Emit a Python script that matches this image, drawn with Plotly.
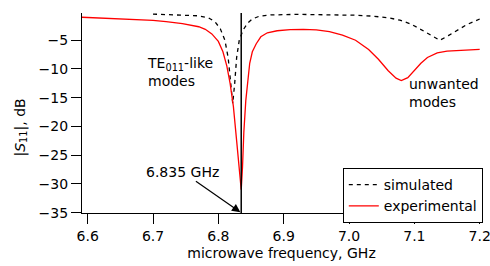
import plotly.graph_objects as go

# Experimental |S11| (red)
exp_freq = [6.591, 6.63, 6.67, 6.70, 6.72, 6.745, 6.77, 6.78, 6.79, 6.80, 6.807, 6.813, 6.818,
            6.823, 6.828, 6.832, 6.835, 6.837, 6.839, 6.842, 6.845, 6.848, 6.852, 6.858, 6.865,
            6.875, 6.89, 6.91, 6.93, 6.95, 6.97, 6.99, 7.01, 7.03, 7.045, 7.06, 7.072, 7.08,
            7.09, 7.10, 7.11, 7.12, 7.135, 7.15, 7.175, 7.2]
exp_db = [-1.0, -1.15, -1.35, -1.55, -1.75, -2.1, -2.65, -3.1, -3.9, -5.2, -7.0, -9.5, -12.5,
          -16.5, -22.5, -27.5, -31.0, -27.0, -21.0, -15.5, -11.5, -9.0, -7.0, -5.6, -4.4,
          -3.7, -3.35, -3.15, -3.1, -3.2, -3.5, -4.1, -5.0, -6.6, -8.3, -10.3, -11.6, -12.0,
          -11.5, -10.3, -9.0, -8.0, -7.2, -6.9, -6.7, -6.6]

# Simulated |S11| (black dashed)
sim_freq = [6.70, 6.74, 6.77, 6.785, 6.795, 6.803, 6.81, 6.815, 6.819, 6.822, 6.825, 6.828,
            6.832, 6.838, 6.845, 6.852, 6.862, 6.88, 6.92, 6.97, 7.01, 7.036, 7.06, 7.078,
            7.095, 7.108, 7.125, 7.139, 7.152, 7.165, 7.18, 7.2]
sim_db = [-0.45, -0.55, -0.75, -1.1, -1.8, -3.0, -5.0, -8.0, -12.0, -16.0, -12.5, -8.0,
          -5.0, -3.2, -2.0, -1.3, -0.85, -0.6, -0.5, -0.55, -0.65, -0.8, -1.1, -1.5,
          -2.2, -3.0, -4.1, -5.0, -4.2, -3.25, -2.3, -1.3]

resonance_ghz = 6.835
x_ticks = [6.6, 6.7, 6.8, 6.9, 7.0, 7.1, 7.2]
x_tick_labels = ["6.6", "6.7", "6.8", "6.9", "7.0", "7.1", "7.2"]
y_ticks = [-5, -10, -15, -20, -25, -30, -35]
y_tick_labels = ["\u22125", "\u221210", "\u221215", "\u221220", "\u221225", "\u221230", "\u221235"]

FONT = "DejaVu Sans, Liberation Sans, Arial, sans-serif"
FS = 14

fig = go.Figure()
fig.add_trace(go.Scatter(x=sim_freq, y=sim_db, mode="lines", name="simulated",
                         line=dict(color="black", width=1.3, dash="4px,4px")))
fig.add_trace(go.Scatter(x=exp_freq, y=exp_db, mode="lines", name="experimental",
                         line=dict(color="#ff0000", width=1.3)))

fig.add_shape(type="line", xref="x", yref="paper", x0=resonance_ghz, x1=resonance_ghz,
              y0=0, y1=1, line=dict(color="black", width=1.5))

fig.add_annotation(x=resonance_ghz, y=-35, xref="x", yref="y", text="6.835 GHz",
                   showarrow=True, arrowhead=2, arrowsize=1.4, arrowwidth=1.2,
                   arrowcolor="black", ax=-59, ay=-41, standoff=1,
                   font=dict(size=FS, color="black", family=FONT))
fig.add_annotation(x=6.6876, y=-10.6, xref="x", yref="y", xanchor="left", yanchor="middle",
                   text="TE<sub>011</sub>-like<br>modes", showarrow=False, align="left",
                   font=dict(size=FS, color="black", family=FONT))
fig.add_annotation(x=7.089, y=-10.9, xref="x", yref="y", xanchor="left", yanchor="top",
                   text="unwanted<br>modes", showarrow=False, align="left",
                   font=dict(size=FS, color="black", family=FONT))
# y-axis title
fig.add_annotation(x=0, y=0.4275, xref="paper", yref="paper", xanchor="center",
                   yanchor="middle", xshift=-62, textangle=-90, showarrow=False,
                   text="|<i>S</i><sub>11</sub>|, dB",
                   font=dict(size=FS, color="black", family=FONT))

fig.update_layout(
    width=490, height=266,
    margin=dict(l=82, r=8, t=13, b=53),
    paper_bgcolor="white", plot_bgcolor="white",
    font=dict(family=FONT, size=FS, color="black"),
    showlegend=True,
    legend=dict(x=0.652, y=0.225, xanchor="left", yanchor="top",
                bordercolor="black", borderwidth=1, bgcolor="white",
                font=dict(size=FS, family=FONT), tracegroupgap=0,
                itemwidth=30, traceorder="normal"),
)
fig.update_xaxes(range=[6.5913, 7.202], tickvals=x_ticks, ticktext=x_tick_labels,
                 automargin=False, ticklabeloverflow="allow",
                 showgrid=False, zeroline=False, showline=True, linecolor="black",
                 linewidth=1.3, ticks="outside", ticklen=10, tickcolor="black",
                 tickwidth=1.3, title=dict(text="microwave frequency, GHz", standoff=5,
                                         font=dict(size=FS)))
fig.update_yaxes(range=[-35.05, -0.26], tickvals=y_ticks, ticktext=y_tick_labels,
                 automargin=False,
                 showgrid=False, zeroline=False, showline=True, linecolor="black",
                 linewidth=1.3, ticks="outside", ticklen=10, tickcolor="black",
                 tickwidth=1.3)

fig.write_html("out.html", config={"displayModeBar": False},
               post_script="document.body.style.margin='0px';"
                           "document.body.style.overflow='hidden';")
